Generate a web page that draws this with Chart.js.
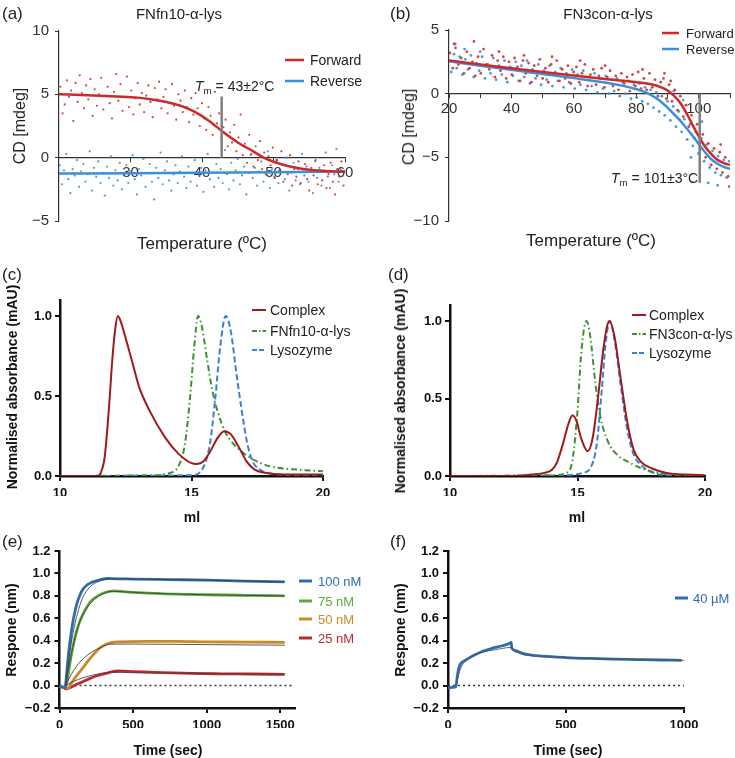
<!DOCTYPE html>
<html>
<head>
<meta charset="utf-8">
<script src="https://cdn.jsdelivr.net/npm/chart.js@4.4.1/dist/chart.umd.min.js"></script>
<style>
  body { margin: 0; background: #fff; font-family: "Liberation Sans", Arial, sans-serif; color: #222; }
  #page { position: relative; width: 735px; height: 758px; overflow: hidden; }
  .panel { position: absolute; }
  .t { position: absolute; white-space: nowrap; line-height: 1; z-index: 2; }
  .c { transform: translate(-50%, -50%); }
  .l { transform: translate(0, -50%); }
  .r90 { transform: translate(-50%, -50%) rotate(-90deg); }
  .b { font-weight: bold; color: #111; }
  .lg { position: absolute; z-index: 2; }
  sub { font-size: 70%; vertical-align: -3px; }
</style>
</head>
<body>
<div id="page">
  <div class="panel" style="left:0;top:0"><canvas id="chA" width="367" height="250"></canvas></div>
  <div class="panel" style="left:367px;top:0"><canvas id="chB" width="368" height="250"></canvas></div>
  <div class="panel" style="left:0;top:250px"><canvas id="chC" width="367" height="255"></canvas></div>
  <div class="panel" style="left:367px;top:250px"><canvas id="chD" width="368" height="255"></canvas></div>
  <div class="panel" style="left:0;top:505px"><canvas id="chE" width="367" height="253"></canvas></div>
  <div class="panel" style="left:367px;top:505px"><canvas id="chF" width="368" height="253"></canvas></div>

  <!-- (a) -->
  <div class="t l" style="left:2px;top:13px;font-size:17px">(a)</div>
  <div class="t c" style="left:179px;top:13px;font-size:15px">FNfn10-α-lys</div>
  <div class="t r90" style="left:20px;top:126px;font-size:16px">CD [mdeg]</div>
  <div class="t c" style="left:202px;top:243px;font-size:17px">Temperature (ºC)</div>
  <div class="t l" style="left:195px;top:87px;font-size:14px"><i>T</i><sub>m</sub> = 43±2°C</div>
  <svg class="lg" style="left:285px;top:58px" width="19" height="4"><line x1="0" y1="2" x2="19" y2="2" stroke="#cc2a2a" stroke-width="2.5"/></svg>
  <div class="t l" style="left:310px;top:60px;font-size:14px">Forward</div>
  <svg class="lg" style="left:285px;top:79px" width="19" height="4"><line x1="0" y1="2" x2="19" y2="2" stroke="#3b8fd8" stroke-width="2.5"/></svg>
  <div class="t l" style="left:310px;top:81px;font-size:14px">Reverse</div>

  <!-- (b) -->
  <div class="t l" style="left:390px;top:13px;font-size:17px">(b)</div>
  <div class="t c" style="left:608px;top:13px;font-size:15px">FN3con-α-lys</div>
  <div class="t r90" style="left:409px;top:127px;font-size:16px">CD [mdeg]</div>
  <div class="t c" style="left:591px;top:240px;font-size:17px">Temperature (ºC)</div>
  <div class="t l" style="left:611px;top:179px;font-size:14px"><i>T</i><sub>m</sub> = 101±3°C</div>
  <svg class="lg" style="left:662px;top:31px" width="17" height="4"><line x1="0" y1="2" x2="17" y2="2" stroke="#cc2a2a" stroke-width="2.5"/></svg>
  <div class="t l" style="left:686px;top:33px;font-size:13px">Forward</div>
  <svg class="lg" style="left:662px;top:47px" width="17" height="4"><line x1="0" y1="2" x2="17" y2="2" stroke="#3b8fd8" stroke-width="2.5"/></svg>
  <div class="t l" style="left:686px;top:49px;font-size:13px">Reverse</div>

  <!-- (c) -->
  <div class="t l" style="left:2px;top:274px;font-size:17px">(c)</div>
  <div class="t r90 b" style="left:12px;top:387px;font-size:14px">Normalised absorbance (mAU)</div>
  <div class="t c b" style="left:192px;top:517px;font-size:14px">ml</div>
  <svg class="lg" style="left:252px;top:308px" width="14" height="4"><line x1="0" y1="2" x2="14" y2="2" stroke="#9e1b1b" stroke-width="2"/></svg>
  <div class="t l" style="left:270px;top:310px;font-size:14px">Complex</div>
  <svg class="lg" style="left:252px;top:329px" width="14" height="4"><line x1="0" y1="2" x2="14" y2="2" stroke="#3f8f2f" stroke-width="2" stroke-dasharray="5 2 1.5 2"/></svg>
  <div class="t l" style="left:270px;top:331px;font-size:14px">FNfn10-α-lys</div>
  <svg class="lg" style="left:252px;top:348px" width="14" height="4"><line x1="0" y1="2" x2="14" y2="2" stroke="#3c7fd6" stroke-width="2" stroke-dasharray="5 2"/></svg>
  <div class="t l" style="left:270px;top:350px;font-size:14px">Lysozyme</div>

  <!-- (d) -->
  <div class="t l" style="left:388px;top:274px;font-size:17px">(d)</div>
  <div class="t r90 b" style="left:400px;top:391px;font-size:14px">Normalised absorbance (mAU)</div>
  <div class="t c b" style="left:577px;top:517px;font-size:14px">ml</div>
  <svg class="lg" style="left:632px;top:313px" width="14" height="4"><line x1="0" y1="2" x2="14" y2="2" stroke="#9e1b1b" stroke-width="2"/></svg>
  <div class="t l" style="left:649px;top:315px;font-size:14px">Complex</div>
  <svg class="lg" style="left:632px;top:332px" width="14" height="4"><line x1="0" y1="2" x2="14" y2="2" stroke="#3f8f2f" stroke-width="2" stroke-dasharray="5 2 1.5 2"/></svg>
  <div class="t l" style="left:649px;top:334px;font-size:14px">FN3con-α-lys</div>
  <svg class="lg" style="left:632px;top:351px" width="14" height="4"><line x1="0" y1="2" x2="14" y2="2" stroke="#3c7fd6" stroke-width="2" stroke-dasharray="5 2"/></svg>
  <div class="t l" style="left:649px;top:353px;font-size:14px">Lysozyme</div>

  <!-- (e) -->
  <div class="t l" style="left:2px;top:541px;font-size:17px">(e)</div>
  <div class="t r90 b" style="left:11px;top:630px;font-size:14px">Respone (nm)</div>
  <div class="t c b" style="left:168px;top:750px;font-size:14px">Time (sec)</div>
  <svg class="lg" style="left:299px;top:579px" width="13" height="4"><line x1="0" y1="2" x2="13" y2="2" stroke="#2e6cb3" stroke-width="3"/></svg>
  <div class="t l" style="left:318px;top:581px;font-size:13px;color:#2e6cb3">100 nM</div>
  <svg class="lg" style="left:299px;top:599px" width="13" height="4"><line x1="0" y1="2" x2="13" y2="2" stroke="#5aab3a" stroke-width="3"/></svg>
  <div class="t l" style="left:318px;top:601px;font-size:13px;color:#5aab3a">75 nM</div>
  <svg class="lg" style="left:299px;top:617px" width="13" height="4"><line x1="0" y1="2" x2="13" y2="2" stroke="#c98a2a" stroke-width="3"/></svg>
  <div class="t l" style="left:318px;top:619px;font-size:13px;color:#c98a2a">50 nM</div>
  <svg class="lg" style="left:299px;top:636px" width="13" height="4"><line x1="0" y1="2" x2="13" y2="2" stroke="#c0282e" stroke-width="3"/></svg>
  <div class="t l" style="left:318px;top:638px;font-size:13px;color:#c0282e">25 nM</div>

  <!-- (f) -->
  <div class="t l" style="left:390px;top:541px;font-size:17px">(f)</div>
  <div class="t r90 b" style="left:400px;top:630px;font-size:14px">Respone (nm)</div>
  <div class="t c b" style="left:568px;top:750px;font-size:14px">Time (sec)</div>
  <svg class="lg" style="left:675px;top:596px" width="13" height="4"><line x1="0" y1="2" x2="13" y2="2" stroke="#2e6cb3" stroke-width="3"/></svg>
  <div class="t l" style="left:693px;top:598px;font-size:13px;color:#2e6cb3">40 µM</div>
</div>

<script>
// ---- tick values ----
const aTicksX = [30, 40, 50, 60];
const aTicksY = [-5, 0, 5, 10];
const bTicksX = [20, 30, 40, 50, 60, 70, 80, 90, 100, 110];
const bLabeledX = [20, 40, 60, 80, 100];
const bTicksY = [-10, -5, 0, 5];
const secTicksX = [10, 15, 20];
const secTicksY = [0, 0.5, 1.0];
const eTicksX = [0, 500, 1000, 1500];
const fTicksX = [0, 500, 1000];
const bliTicksY = [-0.2, 0, 0.2, 0.4, 0.6, 0.8, 1.0, 1.2];

// ---- (a) FNfn10-α-lys CD melt ----
const aForwardFit = [[20,5.0],[24,4.93],[28,4.83],[31,4.74],[33,4.6],[35,4.4],[37,4.1],[39,3.62],[41,2.9],[43,2.0],[45,1.2],[47,0.55],[49,-0.1],[51,-0.5],[53,-0.78],[55,-0.95],[58,-1.08],[60,-1.12]];
const aReverseFit = [[20,-1.25],[30,-1.23],[40,-1.2],[50,-1.15],[60,-1.08]];
const aTmLine = [[42.75,0],[42.75,4.83]];
const aForwardPts = [[20.2,5.6],[20.5,3.5],[20.8,4.2],[21.1,6.1],[21.4,4.8],[21.7,5.3],[22.0,2.9],[22.3,5.9],[22.6,4.4],[22.9,6.5],[23.2,5.1],[23.5,3.9],[23.8,5.7],[24.1,4.6],[24.4,6.2],[24.7,3.3],[25.0,5.4],[25.3,4.1],[25.6,5.0],[25.9,6.3],[26.2,3.8],[26.5,4.9],[26.8,5.6],[27.1,4.3],[27.4,3.1],[27.7,5.2],[28.0,6.6],[28.3,4.5],[28.6,5.8],[28.9,3.7],[29.2,4.8],[29.5,6.4],[29.8,4.0],[30.1,5.3],[30.4,3.4],[30.7,4.7],[31.0,5.9],[31.3,4.2],[31.6,5.1],[31.9,3.6],[32.2,4.9],[32.5,5.7],[32.8,4.4],[33.1,3.2],[33.4,5.5],[33.7,4.6],[34.0,6.0],[34.3,3.9],[34.6,4.8],[34.9,5.4],[35.2,3.5],[35.5,4.3],[35.8,5.8],[36.1,4.1],[36.4,3.0],[36.7,5.0],[37.0,4.5],[37.3,3.6],[37.6,5.3],[37.9,4.0],[38.2,2.8],[38.5,4.7],[38.8,3.4],[39.1,5.1],[39.4,3.9],[39.7,2.5],[40.0,4.3],[40.3,3.1],[40.6,2.2],[40.9,4.0],[41.2,3.3],[41.5,1.8],[41.8,5.2],[42.1,2.7],[42.4,3.5],[42.7,1.6],[43.0,2.4],[43.3,3.0],[43.6,0.9],[43.9,2.0],[44.2,1.2],[44.5,2.6],[44.8,0.5],[45.1,1.6],[45.4,3.4],[45.7,0.2],[46.0,1.1],[46.3,-0.4],[46.6,1.8],[46.9,0.3],[47.2,-0.7],[47.5,0.9],[47.8,-0.2],[48.1,1.3],[48.4,-0.9],[48.7,0.4],[49.0,-1.3],[49.3,0.1],[49.6,-0.6],[49.9,0.8],[50.2,-1.6],[50.5,-0.2],[50.8,-1.0],[51.1,0.5],[51.4,-1.9],[51.7,-0.6],[52.0,-1.3],[52.3,0.2],[52.6,-2.2],[52.9,-0.9],[53.2,-1.5],[53.5,-0.3],[53.8,-2.0],[54.1,-1.1],[54.4,-0.5],[54.7,-1.7],[55.0,-2.6],[55.3,-0.8],[55.6,-1.4],[55.9,-0.2],[56.2,-2.1],[56.5,-1.0],[56.8,-1.8],[57.1,-0.6],[57.4,-2.4],[57.7,-1.3],[58.0,-0.4],[58.3,-1.9],[58.6,-2.9],[58.9,-0.9],[59.2,-1.5],[59.5,-0.3],[59.8,-2.2]];
const aReversePts = [[20.1,-0.6],[20.4,-2.1],[20.7,-1.0],[21.0,0.3],[21.3,-1.7],[21.6,-2.8],[21.9,-0.9],[22.2,-1.4],[22.5,-0.2],[22.8,-2.3],[23.1,-1.1],[23.4,-0.5],[23.7,-1.9],[24.0,-1.3],[24.3,0.5],[24.6,-2.6],[24.9,-0.8],[25.2,-1.5],[25.5,-0.3],[25.8,-2.0],[26.1,-1.2],[26.4,-3.0],[26.7,-0.7],[27.0,-1.6],[27.3,0.1],[27.6,-2.2],[27.9,-1.0],[28.2,-1.8],[28.5,-0.4],[28.8,-2.5],[29.1,-1.3],[29.4,-0.6],[29.7,-2.0],[30.0,-1.1],[30.3,0.2],[30.6,-1.7],[30.9,-2.9],[31.2,-0.9],[31.5,-1.4],[31.8,-0.1],[32.1,-2.3],[32.4,-1.2],[32.7,-0.5],[33.0,-1.9],[33.3,-3.3],[33.6,-0.8],[33.9,-1.6],[34.2,0.4],[34.5,-2.1],[34.8,-1.0],[35.1,-0.3],[35.4,-1.8],[35.7,-2.6],[36.0,-1.3],[36.3,-0.6],[36.6,-2.0],[36.9,-1.1],[37.2,0.1],[37.5,-1.5],[37.8,-2.4],[38.1,-0.7],[38.4,-1.9],[38.7,-1.2],[39.0,-0.2],[39.3,-2.2],[39.6,-1.4],[39.9,-0.8],[40.2,-2.7],[40.5,-1.0],[40.8,0.3],[41.1,-1.7],[41.4,-1.2],[41.7,-2.3],[42.0,-0.5],[42.3,-1.6],[42.6,-0.9],[42.9,-2.0],[43.2,0.6],[43.5,-1.3],[43.8,-2.5],[44.1,-0.4],[44.4,-1.8],[44.7,-1.0],[45.0,-0.1],[45.3,-2.1],[45.6,-1.4],[45.9,-0.7],[46.2,-2.9],[46.5,-1.2],[46.8,0.2],[47.1,-1.6],[47.4,-0.8],[47.7,-2.2],[48.0,-1.1],[48.3,-0.3],[48.6,-1.9],[48.9,-1.3],[49.2,0.5],[49.5,-2.4],[49.8,-0.9],[50.1,-1.5],[50.4,-0.2],[50.7,-2.0],[51.0,-1.1],[51.3,-0.6],[51.6,-1.7],[51.9,0.0],[52.2,-2.6],[52.5,-1.2],[52.8,-0.4],[53.1,-1.8],[53.4,-0.9],[53.7,-2.1],[54.0,0.3],[54.3,-1.4],[54.6,-0.7],[54.9,-1.9],[55.2,-1.1],[55.5,-2.8],[55.8,-0.3],[56.1,-1.6],[56.4,-0.8],[56.7,-2.2],[57.0,-1.0],[57.3,0.4],[57.6,-1.5],[57.9,-2.4],[58.2,-0.6],[58.5,-1.3],[58.8,0.7],[59.1,-1.9],[59.4,-0.9],[59.7,-1.4]];

// ---- (b) FN3con-α-lys CD melt ----
const bForwardFit = [[20,2.6],[30,2.3],[40,2.0],[50,1.7],[60,1.42],[70,1.15],[80,0.9],[85,0.72],[88,0.5],[90,0.25],[92,-0.15],[94,-0.7],[96,-1.5],[98,-2.45],[100,-3.35],[102,-4.15],[104,-4.75],[106,-5.2],[108,-5.45],[110,-5.6]];
const bReverseFit = [[20,2.55],[30,2.2],[40,1.87],[50,1.55],[60,1.22],[70,0.88],[75,0.65],[80,0.35],[83,0.1],[86,-0.3],[88,-0.65],[90,-1.1],[92,-1.6],[94,-2.1],[96,-2.7],[98,-3.3],[100,-3.95],[102,-4.6],[104,-5.15],[106,-5.5],[108,-5.75],[110,-5.9]];
const bTmLine = [[100.3,0],[100.3,-7.0]];
const bForwardPts = [[20.3,3.2],[21.2,2.0],[22.1,3.6],[23.0,2.3],[23.9,2.8],[24.8,1.6],[25.7,3.3],[26.6,2.0],[27.5,2.5],[28.4,1.4],[29.3,2.9],[30.2,1.6],[31.1,3.5],[32.0,2.3],[32.9,1.9],[33.8,3.0],[34.7,1.3],[35.6,2.6],[36.5,1.8],[37.4,2.9],[38.3,1.2],[39.2,2.5],[40.1,1.5],[41.0,2.8],[41.9,2.1],[42.8,1.0],[43.7,2.6],[44.6,1.6],[45.5,2.4],[46.4,0.9],[47.3,2.2],[48.2,1.4],[49.1,2.7],[50.0,1.2],[50.9,2.0],[51.8,0.9],[52.7,2.3],[53.6,1.5],[54.5,2.6],[55.4,1.0],[56.3,1.9],[57.2,1.2],[58.1,2.2],[59.0,0.8],[59.9,1.7],[60.8,2.1],[61.7,0.9],[62.6,1.6],[63.5,2.3],[64.4,0.6],[65.3,1.5],[66.2,1.9],[67.1,0.7],[68.0,1.4],[68.9,2.0],[69.8,0.5],[70.7,1.3],[71.6,1.8],[72.5,0.6],[73.4,1.4],[74.3,0.3],[75.2,1.6],[76.1,0.8],[77.0,1.3],[77.9,0.2],[78.8,1.5],[79.7,0.6],[80.6,1.7],[81.5,0.4],[82.4,1.2],[83.3,0.3],[84.2,1.6],[85.1,0.5],[86.0,1.1],[86.9,-0.2],[87.8,0.9],[88.7,1.2],[89.6,-0.4],[90.5,0.7],[91.4,-0.6],[92.3,0.3],[93.2,-1.3],[94.1,-0.2],[95.0,-1.8],[95.9,-0.9],[96.8,-2.6],[97.7,-1.7],[98.6,-3.5],[99.5,-2.4],[100.4,-4.3],[101.3,-3.2],[102.2,-5.0],[103.1,-3.9],[104.0,-5.6],[104.9,-4.3],[105.8,-5.9],[106.7,-4.6],[107.6,-6.2],[108.5,-5.0],[109.4,-6.5],[21.6,3.9],[28.0,4.1],[36.0,3.3],[44.0,3.0],[53.0,2.9],[62.0,2.6],[70.0,2.2],[82.0,1.9],[89.0,1.6],[91.0,1.0],[109.8,-7.3],[107.0,-4.0]];
const bReversePts = [[20.7,1.7],[21.6,3.1],[22.5,2.0],[23.4,2.9],[24.3,1.5],[25.2,2.7],[26.1,1.9],[27.0,3.0],[27.9,1.3],[28.8,2.4],[29.7,1.8],[30.6,2.9],[31.5,1.2],[32.4,2.3],[33.3,1.6],[34.2,2.8],[35.1,1.1],[36.0,2.2],[36.9,1.5],[37.8,2.6],[38.7,0.9],[39.6,2.1],[40.5,1.4],[41.4,2.5],[42.3,1.0],[43.2,2.2],[44.1,1.3],[45.0,2.6],[45.9,0.8],[46.8,1.9],[47.7,1.2],[48.6,2.3],[49.5,0.7],[50.4,1.8],[51.3,1.1],[52.2,2.2],[53.1,0.6],[54.0,1.7],[54.9,1.0],[55.8,2.0],[56.7,0.5],[57.6,1.6],[58.5,0.9],[59.4,1.9],[60.3,0.4],[61.2,1.5],[62.1,0.7],[63.0,1.8],[63.9,0.3],[64.8,1.3],[65.7,0.6],[66.6,1.6],[67.5,0.1],[68.4,1.2],[69.3,0.4],[70.2,1.4],[71.1,0.0],[72.0,1.1],[72.9,0.2],[73.8,1.2],[74.7,-0.2],[75.6,0.9],[76.5,0.0],[77.4,1.0],[78.3,-0.4],[79.2,0.7],[80.1,-0.3],[81.0,0.8],[81.9,-0.6],[82.8,0.5],[83.7,-0.8],[84.6,0.3],[85.5,-1.1],[86.4,0.1],[87.3,-1.4],[88.2,-0.2],[89.1,-1.7],[90.0,-0.6],[90.9,-2.1],[91.8,-1.0],[92.7,-2.6],[93.6,-1.4],[94.5,-3.0],[95.4,-2.0],[96.3,-3.6],[97.2,-2.4],[98.1,-4.1],[99.0,-3.0],[99.9,-4.7],[100.8,-3.5],[101.7,-5.3],[102.6,-4.0],[103.5,-5.8],[104.4,-4.5],[105.3,-6.2],[106.2,-4.9],[107.1,-6.4],[108.0,-5.2],[108.9,-6.6],[109.8,-5.3],[22.0,3.9],[25.0,3.5],[30.0,3.3],[92.0,0.2],[95.0,-0.5],[97.5,-5.0],[103.0,-7.0],[106.0,-7.2],[101.0,-2.2]];

// ---- (c) SEC, FNfn10-α-lys ----
const cComplex = [[10,0],[11.4,0],[11.55,0.02],[11.7,0.12],[11.85,0.4],[12.0,0.75],[12.1,0.92],[12.2,1.0],[12.3,0.97],[12.5,0.86],[12.8,0.68],[13.0,0.56],[13.4,0.41],[14.0,0.24],[14.5,0.14],[15.0,0.08],[15.2,0.075],[15.45,0.09],[15.7,0.15],[16.0,0.24],[16.25,0.28],[16.5,0.26],[16.8,0.18],[17.1,0.09],[17.4,0.04],[17.8,0.02],[18.5,0.01],[20,0.01]];
const cBinder = [[10,0],[13.5,0.005],[14.2,0.02],[14.5,0.06],[14.75,0.2],[14.95,0.5],[15.1,0.8],[15.25,1.0],[15.4,0.93],[15.6,0.72],[15.8,0.53],[16.0,0.4],[16.3,0.27],[16.6,0.2],[17.0,0.14],[17.5,0.09],[18,0.06],[19,0.04],[20,0.03]];
const cLysozyme = [[10,0],[15.0,0.005],[15.4,0.04],[15.7,0.2],[15.9,0.48],[16.1,0.82],[16.3,1.0],[16.5,0.9],[16.7,0.65],[16.9,0.42],[17.1,0.22],[17.3,0.1],[17.6,0.04],[18,0.015],[19,0.005],[20,0]];

// ---- (d) SEC, FN3con-α-lys ----
const dComplex = [[10,0],[12.5,0],[13.2,0.01],[13.7,0.02],[14.0,0.04],[14.2,0.09],[14.45,0.22],[14.65,0.34],[14.8,0.39],[14.95,0.36],[15.15,0.24],[15.4,0.16],[15.6,0.25],[15.8,0.5],[16.0,0.8],[16.15,0.96],[16.25,1.0],[16.45,0.9],[16.7,0.62],[16.95,0.35],[17.2,0.17],[17.5,0.09],[17.9,0.05],[18.5,0.02],[20,0.005]];
const dBinder = [[10,0],[14.0,0.005],[14.55,0.02],[14.8,0.1],[15.0,0.42],[15.15,0.8],[15.35,1.0],[15.5,0.9],[15.7,0.6],[15.9,0.38],[16.2,0.22],[16.6,0.13],[17.0,0.09],[17.5,0.05],[18,0.025],[19,0.005],[20,0]];
const dLysozyme = [[10,0],[14.5,0.005],[15.2,0.02],[15.5,0.05],[15.75,0.2],[15.95,0.55],[16.1,0.85],[16.27,1.0],[16.45,0.88],[16.7,0.58],[16.95,0.3],[17.2,0.14],[17.5,0.07],[17.9,0.025],[18.5,0.005],[20,0]];

// ---- (e) BLI, FNfn10-α-lys ----
const e100 = [[0,-0.01],[20,-0.01],[38,-0.02],[45,0.05],[55,0.2],[70,0.38],[85,0.52],[100,0.63],[120,0.74],[140,0.81],[160,0.86],[185,0.895],[210,0.915],[240,0.93],[280,0.945],[330,0.955],[350,0.953],[500,0.95],[750,0.945],[1000,0.94],[1250,0.932],[1530,0.925]];
const e75 = [[0,-0.01],[38,-0.02],[50,0.03],[65,0.15],[80,0.27],[100,0.4],[120,0.5],[140,0.58],[165,0.65],[190,0.71],[220,0.76],[260,0.8],[300,0.825],[340,0.84],[370,0.845],[450,0.835],[600,0.825],[800,0.815],[1000,0.81],[1250,0.805],[1530,0.8]];
const e50 = [[0,-0.01],[38,-0.02],[60,-0.02],[80,0.02],[100,0.06],[130,0.11],[160,0.16],[200,0.23],[240,0.29],[280,0.34],[320,0.37],[360,0.385],[400,0.39],[600,0.395],[800,0.395],[1000,0.39],[1250,0.388],[1530,0.385]];
const e25 = [[0,-0.01],[30,-0.02],[45,-0.03],[70,-0.02],[100,0.0],[150,0.03],[200,0.06],[260,0.09],[320,0.11],[360,0.125],[400,0.13],[500,0.125],[700,0.115],[900,0.108],[1100,0.105],[1300,0.103],[1530,0.1]];
const e100Fit = [[40,0],[60,0.2],[80,0.38],[100,0.52],[130,0.68],[160,0.79],[200,0.87],[250,0.92],[300,0.945],[345,0.955],[500,0.95],[1000,0.94],[1530,0.925]];
const e75Fit = [[40,0],[80,0.28],[120,0.5],[170,0.66],[230,0.76],[300,0.82],[350,0.84],[600,0.825],[1000,0.81],[1530,0.8]];
const e50Fit = [[40,0],[80,0.1],[120,0.18],[170,0.25],[220,0.3],[280,0.34],[350,0.37],[500,0.37],[1000,0.365],[1530,0.36]];
const e25Fit = [[40,0],[100,0.04],[160,0.07],[250,0.1],[360,0.12],[500,0.115],[800,0.11],[1530,0.1]];
const eBaseline = [[0,0],[1590,0]];

// ---- (f) BLI, FN3con-α-lys ----
const f40 = [[0,-0.02],[20,-0.015],[33,-0.01],[38,0.06],[44,0.14],[52,0.19],[65,0.215],[85,0.24],[110,0.27],[140,0.3],[170,0.32],[200,0.34],[230,0.355],[255,0.37],[268,0.385],[270,0.335],[290,0.31],[310,0.292],[340,0.275],[400,0.262],[500,0.25],[600,0.242],[700,0.236],[800,0.232],[900,0.228],[990,0.225]];
const f40Fit = [[33,0],[45,0.1],[60,0.18],[80,0.23],[110,0.27],[150,0.3],[200,0.32],[268,0.34],[270,0.33],[300,0.29],[350,0.268],[500,0.25],[1000,0.225]];
const fBaseline = [[0,0],[1000,0]];

Chart.defaults.font.family = '"Liberation Sans", Arial, sans-serif';
Chart.defaults.color = '#222';

const minus = v => String(v).replace('-', '\u2212');
const oneDec = v => minus(v.toFixed(1));

const thin = { color: '#333', tickLen: 4, tickWidth: 1, axisWidth: 1.2, font: { size: 15 } };
const bold = { color: '#111', tickLen: 5, tickWidth: 2, axisWidth: 2.5, font: { size: 13, weight: 'bold' } };

function scale(min, max, tickVals, fmt, st, pad, fixed, extra) {
    return Object.assign({
        type: 'linear', min: min, max: max,
        afterBuildTicks: sc => { sc.ticks = tickVals.map(v => ({ value: v })); },
        afterFit: sc => {
            if (sc.isHorizontal()) sc.height = fixed; else sc.width = fixed;
            sc.paddingLeft = sc.paddingRight = sc.paddingTop = sc.paddingBottom = 0;
        },
        ticks: { autoSkip: false, maxRotation: 0, padding: pad, color: st.color, font: st.font, callback: fmt },
        grid: { display: true, drawOnChartArea: false, drawTicks: true, tickLength: st.tickLen, color: st.color, lineWidth: st.tickWidth },
        border: { display: true, color: st.color, width: st.axisWidth }
    }, extra || {});
}

function dots(data, color, r) {
    return { data: data, showLine: false, pointRadius: r || 1.1, pointBorderWidth: 0, pointBackgroundColor: color, order: 3 };
}

function curve(data, color, width, dash, order) {
    return {
        data: data, showLine: true, borderColor: color, borderWidth: width, borderDash: dash || [],
        pointRadius: 0, cubicInterpolationMode: 'monotone', fill: false, order: order === undefined ? 1 : order
    };
}

function draw(id, datasets, padding, scales) {
    return new Chart(document.getElementById(id), {
        type: 'scatter',
        data: { datasets: datasets },
        options: {
            responsive: false, animation: false, events: [],
            layout: { padding: padding },
            plugins: { legend: { display: false }, tooltip: { enabled: false } },
            scales: scales
        }
    });
}

// (a)
draw('chA', [
    curve(aTmLine, '#7f7f7f', 2.5, [], 0),
    curve(aForwardFit, '#cc2a2a', 2.5),
    curve(aReverseFit, '#3b8fd8', 2.5),
    dots(aForwardPts, 'rgba(210,45,45,0.9)'),
    dots(aReversePts, 'rgba(60,140,215,0.9)')
], { left: 19, right: 22, top: 31, bottom: 29 }, {
    x: scale(20, 60, aTicksX, minus, thin, 2, 0, { position: { y: 0 } }),
    y: scale(-5, 10, aTicksY, minus, thin, 6, 40)
});

// (b)
draw('chB', [
    curve(bTmLine, '#7f7f7f', 2.5, [], 0),
    curve(bForwardFit, '#cc2a2a', 2.5),
    curve(bReverseFit, '#3b8fd8', 2.5),
    dots(bForwardPts, 'rgba(210,45,45,0.9)', 1.4),
    dots(bReversePts, 'rgba(60,140,215,0.9)', 1.4)
], { left: 42, right: 5, top: 30, bottom: 29 }, {
    x: scale(20, 110, bTicksX, v => bLabeledX.includes(v) ? String(v) : '', thin, 2, 0, { position: { y: 0 } }),
    y: scale(-10, 5, bTicksY, minus, thin, 6, 40)
});

// (c)
draw('chC', [
    curve(cComplex, '#9e1b1b', 2),
    curve(cBinder, '#3f8f2f', 2, [6, 3, 1.5, 3]),
    curve(cLysozyme, '#3c7fd6', 2, [6, 3])
], { left: 20, right: 44, top: 50, bottom: 9 }, {
    x: scale(10, 20, secTicksX, minus, bold, 5, 20),
    y: scale(0, 1.1, secTicksY, oneDec, bold, 3, 40)
});

// (d)
draw('chD', [
    curve(dComplex, '#9e1b1b', 2),
    curve(dBinder, '#3f8f2f', 2, [6, 3, 1.5, 3]),
    curve(dLysozyme, '#3c7fd6', 2, [6, 3])
], { left: 43, right: 30, top: 55.5, bottom: 9 }, {
    x: scale(10, 20, secTicksX, minus, bold, 5, 20),
    y: scale(0, 1.1, secTicksY, oneDec, bold, 3, 40)
});

// (e)
draw('chE', [
    curve(e100Fit, '#444', 0.9, [], 0),
    curve(e75Fit, '#444', 0.9, [], 0),
    curve(e50Fit, '#444', 0.9, [], 0),
    curve(e25Fit, '#444', 0.9, [], 0),
    curve(e100, '#2e6cb3', 2.8),
    curve(e75, '#5aab3a', 2.8),
    curve(e50, '#c98a2a', 2.8),
    curve(e25, '#c0282e', 2.8),
    curve(eBaseline, '#333', 1.5, [2, 3], 2)
], { left: 19.5, right: 72, top: 46, bottom: 30 }, {
    x: scale(0, 1600, eTicksX, minus, bold, 5, 20),
    y: scale(-0.2, 1.2, bliTicksY, oneDec, bold, 4, 40)
});

// (f)
draw('chF', [
    curve(f40Fit, '#555', 0.9, [], 0),
    curve(f40, '#2e6cb3', 2.8),
    curve(fBaseline, '#333', 1.5, [2, 3], 2)
], { left: 41, right: 51, top: 46, bottom: 30 }, {
    x: scale(0, 1000, fTicksX, minus, bold, 5, 20),
    y: scale(-0.2, 1.2, bliTicksY, oneDec, bold, 4, 40)
});
</script>
</body>
</html>
